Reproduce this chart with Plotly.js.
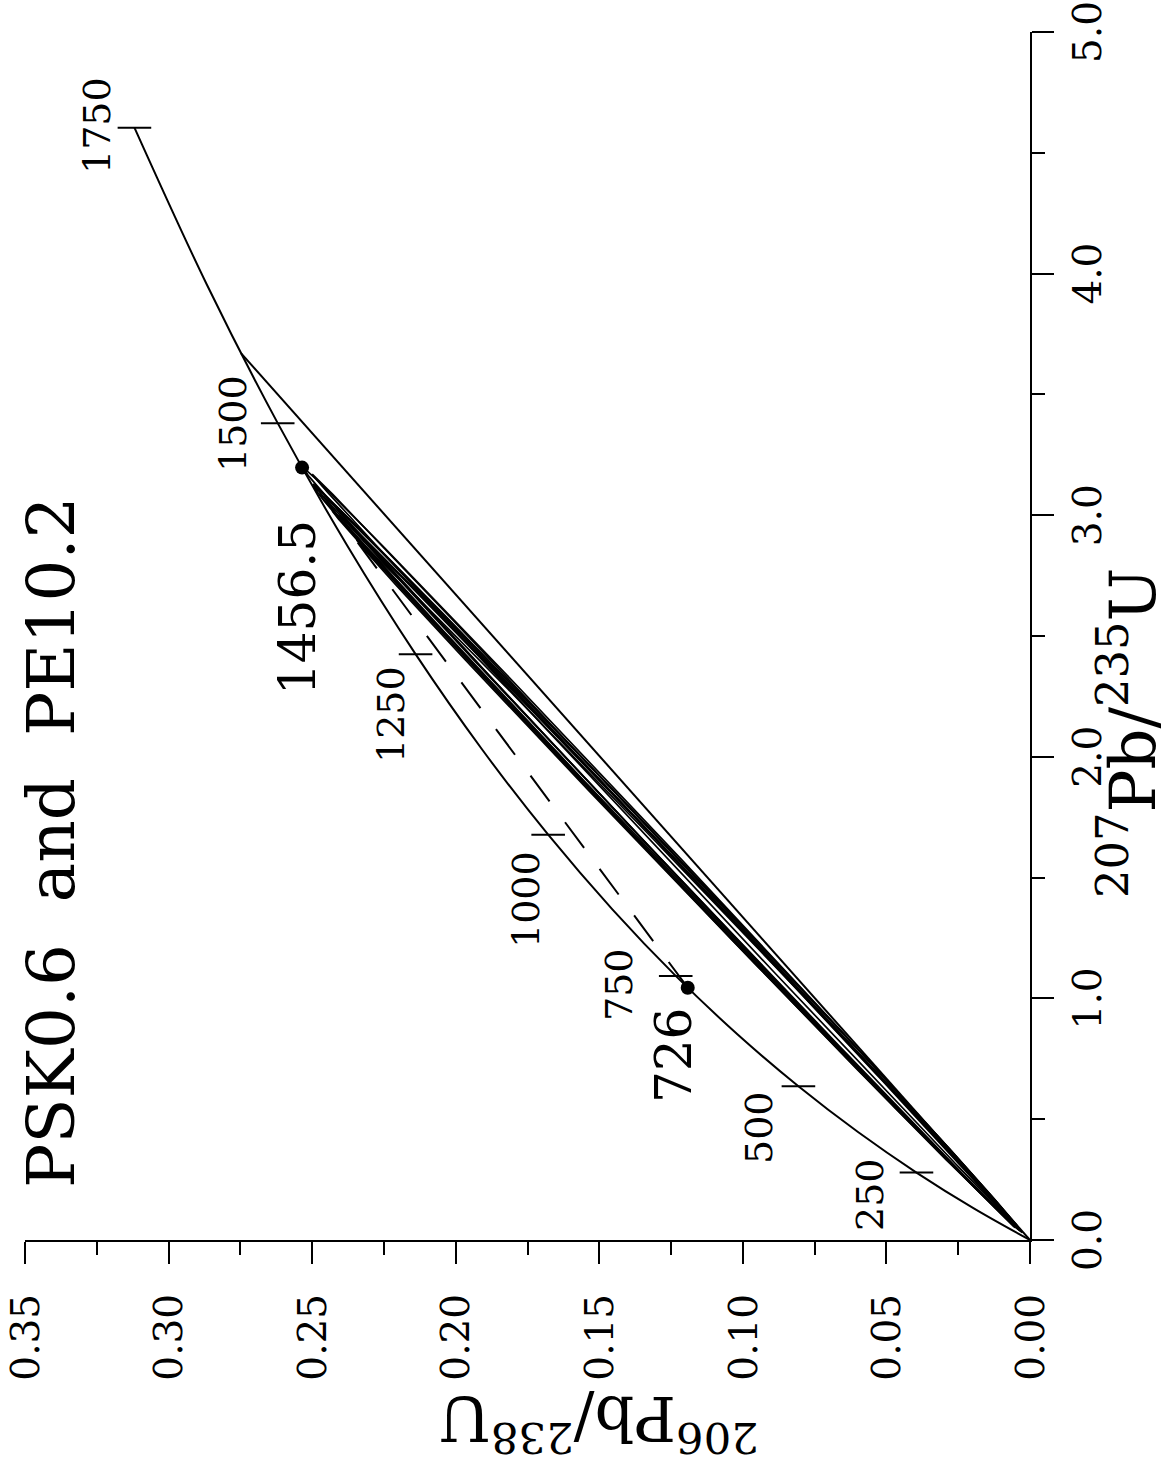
<!DOCTYPE html>
<html><head><meta charset="utf-8">
<script src="https://cdn.plot.ly/plotly-3.0.1.min.js"></script>
<style>
html,body{margin:0;padding:0;width:1172px;height:1466px;overflow:hidden;background:#fff;}
#wrap{position:absolute;left:0;top:0;width:1466px;height:1172px;transform-origin:0 0;transform:translate(0px,1466px) rotate(-90deg);}
</style></head><body>
<div id="wrap"></div>
<script>
// Concordia curve (age in Ma, 207Pb/235U, 206Pb/238U)
const concAge = [0,125,250,375,500,625,750,875,1000,1125,1250,1375,1500,1625,1750];
const concPb207U235 = [0,0.1310,0.2792,0.4468,0.6363,0.8506,1.0931,1.3673,1.6774,2.0282,2.4249,2.8736,3.3810,3.9549,4.6041];
const concPb206U238 = [0,0.01958,0.03954,0.05990,0.08065,0.10181,0.12338,0.14537,0.16780,0.19067,0.21398,0.23775,0.26199,0.28669,0.31189];
const tickAges = [250,500,750,1000,1250,1500,1750];

// Intercept points (discordia chord)
const interceptAge = ["726","1456.5"];
const interceptPb207U235 = [1.0443,3.197];
const interceptPb206U238 = [0.1192,0.2535];

// Outer reference line from origin to concordia
const outerPb207U235 = [0,3.671];
const outerPb206U238 = [0,0.2748];

// Error ellipses: centre, half-extent (2 sigma) and correlation
const ellPb207U235 = [1.62,1.58,1.60,1.55,1.57,1.52,1.61,1.50,1.59];
const ellPb206U238 = [0.1285,0.1262,0.1280,0.1240,0.1265,0.1220,0.1270,0.1215,0.1275];
const ellErr207 = [1.58,1.55,1.52,1.50,1.45,1.48,1.56,1.40,1.50];
const ellErr206 = [0.1250,0.1235,0.1215,0.1190,0.1165,0.1185,0.1230,0.1130,0.1200];
const ellRho = [0.9996,0.9998,0.9995,0.9998,0.9996,0.9997,0.9999,0.9996,0.9994];

// Axis ticks
const xTickVals = [0,1,2,3,4,5];
const xTickText = ["0.0","1.0","2.0","3.0","4.0","5.0"];
const xMinorVals = [0.5,1.5,2.5,3.5,4.5];
const yTickVals = [0,0.05,0.10,0.15,0.20,0.25,0.30,0.35];
const yTickText = ["0.00","0.05","0.10","0.15","0.20","0.25","0.30","0.35"];
const yMinorVals = [0.025,0.075,0.125,0.175,0.225,0.275,0.325];

// ---- styling / layout helpers ----
const serif = "DejaVu Serif";
const labelShift = {250:[-22,46],500:[-41,39],750:[-9,57],1000:[-65,22],1250:[-60,25],1500:[0,45],1750:[2,37]};
const interceptShift = [[-68,14],[-140,4]];

const traces = [];
// ellipses
for (let i = 0; i < ellPb207U235.length; i++) {
  const xs = [], ys = [];
  const s = Math.sqrt(1 - ellRho[i]*ellRho[i]);
  for (let k = 0; k <= 360; k++) {
    const t = k * Math.PI / 180;
    xs.push(ellPb207U235[i] + ellErr207[i]*Math.cos(t));
    ys.push(ellPb206U238[i] + ellErr206[i]*(ellRho[i]*Math.cos(t) + s*Math.sin(t)));
  }
  traces.push({x:xs,y:ys,mode:'lines',line:{color:'black',width:1.7},hoverinfo:'skip',showlegend:false});
}
// outer line
traces.push({x:outerPb207U235,y:outerPb206U238,mode:'lines',line:{color:'black',width:2},showlegend:false});
// dashed chord
traces.push({x:interceptPb207U235,y:interceptPb206U238,mode:'lines',line:{color:'black',width:2,dash:'32px,26px'},showlegend:false});
// concordia
traces.push({x:concPb207U235,y:concPb206U238,mode:'lines',line:{color:'black',width:2,shape:'spline',smoothing:1},showlegend:false});
// concordia ticks
const tx = [], ty = [];
concAge.forEach((a,i)=>{ if (tickAges.includes(a)) { tx.push(concPb207U235[i]); ty.push(concPb206U238[i]); } });
traces.push({x:tx,y:ty,mode:'markers',marker:{symbol:'line-ns',size:24,color:'black',line:{width:2,color:'black'}},showlegend:false});
// intercept dots
traces.push({x:interceptPb207U235,y:interceptPb206U238,mode:'markers',marker:{symbol:'circle',size:14,color:'black'},showlegend:false});

const annotations = [];
concAge.forEach((a,i)=>{
  if (tickAges.includes(a)) {
    annotations.push({x:concPb207U235[i],y:concPb206U238[i],xref:'x',yref:'y',text:String(a),showarrow:false,
      xshift:labelShift[a][0],yshift:labelShift[a][1],font:{family:serif,size:38,color:'black'}});
  }
});
interceptAge.forEach((a,i)=>{
  annotations.push({x:interceptPb207U235[i],y:interceptPb206U238[i],xref:'x',yref:'y',text:a,showarrow:false,
    xshift:interceptShift[i][0],yshift:interceptShift[i][1],font:{family:serif,size:50,color:'black'}});
});
// chart title
annotations.push({x:0.207,y:0.3406,xref:'x',yref:'y',xanchor:'left',yanchor:'middle',text:'PSK0.6  and  PE10.2',showarrow:false,
  font:{family:serif,size:66,color:'black'}});
// axis titles
annotations.push({x:2.21,y:0,xref:'x',yref:'paper',xshift:-26,yshift:-142,xanchor:'center',yanchor:'bottom',
  text:'<sup>207</sup>Pb/<sup>235</sup>U',showarrow:false,font:{family:serif,size:64,color:'black'}});
annotations.push({x:0,y:0.150,xref:'paper',yref:'y',xshift:-225,xanchor:'left',yanchor:'middle',textangle:-90,
  text:'<sup>206</sup>Pb/<sup>238</sup>U',showarrow:false,font:{family:serif,size:62,color:'black'}});

const axisCommon = {showline:true,linewidth:2,linecolor:'black',ticks:'outside',ticklen:22,tickwidth:2,tickcolor:'black',
  showgrid:false,zeroline:false,tickmode:'array',ticklabeloverflow:'allow',tickfont:{family:serif,size:39,color:'black'}};

const layout = {
  width:1466,height:1172,
  margin:{l:226,r:32,t:25,b:142},
  paper_bgcolor:'white',plot_bgcolor:'white',
  showlegend:false,
  xaxis:Object.assign({},axisCommon,{range:[0,5],tickvals:xTickVals,ticktext:xTickText,ticklabelstandoff:0,
    minor:{tickmode:'array',tickvals:xMinorVals,ticks:'outside',ticklen:13,tickwidth:2,tickcolor:'black',showgrid:false}}),
  yaxis:Object.assign({},axisCommon,{range:[0,0.35],tickvals:yTickVals,ticktext:yTickText,ticklabelstandoff:22,
    minor:{tickmode:'array',tickvals:yMinorVals,ticks:'outside',ticklen:13,tickwidth:2,tickcolor:'black',showgrid:false}}),
  annotations:annotations
};
Plotly.newPlot('wrap',traces,layout,{staticPlot:true,displayModeBar:false});
</script>
</body></html>
